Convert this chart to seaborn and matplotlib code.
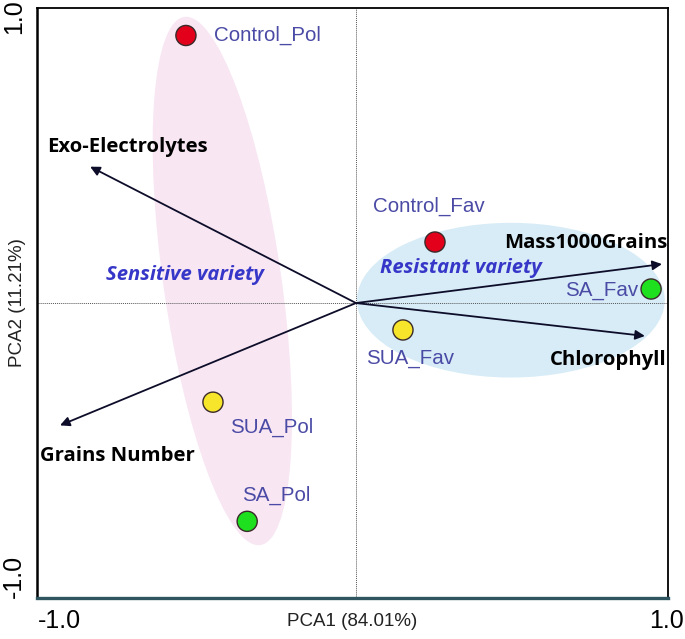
import numpy as np
import pandas as pd
import matplotlib
matplotlib.use("Agg")
import matplotlib.pyplot as plt
import matplotlib.transforms as mtransforms
from matplotlib.patches import Ellipse
import seaborn as sns

# sample scores on the two first components
samples = ["Control_Pol", "Control_Fav", "SA_Fav", "SUA_Fav", "SUA_Pol", "SA_Pol"]
treatment = ["Control", "Control", "SA", "SUA", "SUA", "SA"]
pc1 = [-0.547, 0.254, 0.949, 0.151, -0.460, -0.350]
pc2 = [0.934, 0.213, 0.049, -0.094, -0.346, -0.762]

# variable loadings
variables = ["Exo-Electrolytes", "Grains Number", "Mass1000Grains", "Chlorophyll"]
load1 = [-0.855, -0.952, 0.984, 0.929]
load2 = [0.476, -0.427, 0.136, -0.115]

df = pd.DataFrame({"sample": samples, "treatment": treatment, "PCA1": pc1, "PCA2": pc2})
palette = {"Control": "#e3001b", "SA": "#1fe01f", "SUA": "#f7e52b"}

sns.set_style("white")
plt.rcParams["font.family"] = ["Liberation Sans", "DejaVu Sans"]

fig = plt.figure(figsize=(6.85, 6.39), dpi=100)
ax = fig.add_axes([0.054, 0.064, 0.921, 0.9235])

# group ellipses
ax.add_patch(Ellipse((-0.43, 0.077), 0.38, 1.86, angle=7.5,
                     facecolor="#f8e7f3", edgecolor="none", zorder=0))
ax.add_patch(Ellipse((0.498, 0.01), 0.99, 0.54, angle=0,
                     facecolor="#d7ecf6", edgecolor="none", zorder=0))

ax.axhline(0, color="#555555", lw=0.7, ls=(0, (1, 1)), zorder=1)
ax.axvline(0, color="#555555", lw=0.7, ls=(0, (1, 1)), zorder=1)

# loading arrows
for x, y in zip(load1, load2):
    ax.annotate("", xy=(x, y), xytext=(0, 0),
                arrowprops=dict(arrowstyle="-|>", color="#0d0d2a", lw=1.3,
                                mutation_scale=14, shrinkA=0, shrinkB=0),
                zorder=2)

sns.scatterplot(data=df, x="PCA1", y="PCA2", hue="treatment", palette=palette,
                s=210, edgecolor="#3a2a2a", linewidth=1.0, legend=False, ax=ax, zorder=3)

lab_col = "#4b4ba6"
offsets = {
    "Control_Pol": (0.09, 0.0, "left"),
    "Control_Fav": (-0.20, 0.126, "left"),
    "SA_Fav": (-0.04, -0.004, "right"),
    "SUA_Fav": (-0.12, -0.098, "left"),
    "SUA_Pol": (0.055, -0.087, "left"),
    "SA_Pol": (-0.017, 0.091, "left"),
}
for s, x, y in zip(samples, pc1, pc2):
    dx, dy, ha = offsets[s]
    ax.text(x + dx, y + dy, s, color=lab_col, fontsize=14.8, ha=ha, va="center", zorder=4)

var_font = ["Open Sans", "DejaVu Sans"]
var_pos = {
    "Exo-Electrolytes": (-0.995, 0.545, "left"),
    "Grains Number": (-1.015, -0.535, "left"),
    "Mass1000Grains": (1.0, 0.21, "right"),
    "Chlorophyll": (1.0, -0.2, "right"),
}
for v in variables:
    x, y, ha = var_pos[v]
    ax.text(x, y, v, fontsize=14.6, fontweight="bold", family=var_font,
            ha=ha, va="center", color="black", zorder=4)

ax.text(-0.805, 0.098, "Sensitive variety", fontsize=14.6, fontweight="bold", style="italic",
        family=var_font, color="#3636c8", va="center", zorder=4)
ax.text(0.077, 0.122, "Resistant variety", fontsize=14.6, fontweight="bold", style="italic",
        family=var_font, color="#3636c8", va="center", zorder=4)

ax.set_xlim(-1.026, 1.003)
ax.set_ylim(-1.03, 1.03)
ax.set_xticks([-1.0, -0.5, 0.0, 0.5, 1.0])
ax.set_xticklabels(["-1.0", "", "", "", "1.0"], fontsize=18)
ax.set_yticks([-1.0, -0.5, 0.0, 0.5, 1.0])
ax.set_yticklabels(["-1.0", "", "", "", "1.0"], fontsize=18, rotation=90, va="center")
ax.tick_params(direction="out", length=4, width=1.2, colors="black", pad=4)

# the -1.0 labels sit a little inward from their ticks
ax.get_xticklabels()[0].set_transform(
    ax.get_xticklabels()[0].get_transform() + mtransforms.ScaledTranslation(0.14, 0, fig.dpi_scale_trans))
ax.get_yticklabels()[0].set_transform(
    ax.get_yticklabels()[0].get_transform() + mtransforms.ScaledTranslation(0, 0.13, fig.dpi_scale_trans))

ax.set_xlabel("PCA1 (84.01%)", fontsize=13.5, color="#222222")
ax.xaxis.set_label_coords(0.5, -0.026)
ax.set_ylabel("PCA2 (11.21%)", fontsize=13.5, color="#222222")
ax.yaxis.set_label_coords(-0.017, 0.5)

for sp in ax.spines.values():
    sp.set_color("black")
    sp.set_linewidth(1.3)
ax.spines["left"].set_linewidth(1.8)
ax.spines["bottom"].set_color("#2f5560")
ax.spines["bottom"].set_linewidth(2.4)

fig.savefig("out.png", dpi=100)
